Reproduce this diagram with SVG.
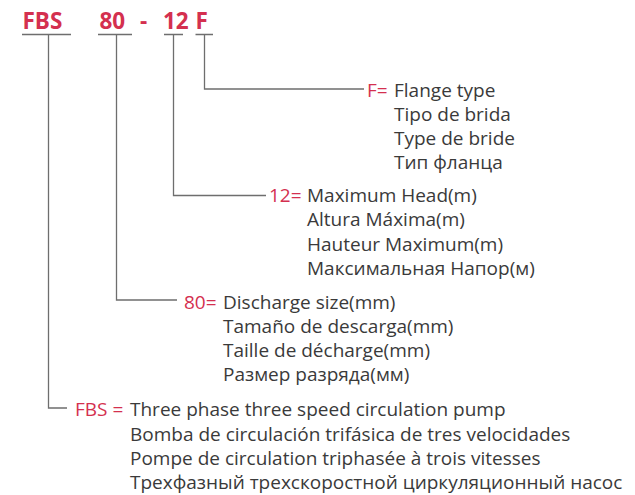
<svg xmlns="http://www.w3.org/2000/svg" width="635" height="495" viewBox="0 0 635 495">
<style>
.code{font-family:"Open Sans","Liberation Sans",sans-serif;font-weight:bold;font-size:22.5px;fill:#d4304f}
.key{font-family:"Open Sans","Liberation Sans",sans-serif;font-size:19px;fill:#d4304f}
.t{font-family:"Open Sans","Liberation Sans",sans-serif;font-size:19px;fill:#3a3a3a}
.ln{stroke:#6e6e6e;stroke-width:1.3;fill:none}
</style>
<rect width="635" height="495" fill="#fff"/>
<g id="header">
<text class="code" x="22.5" y="29">FBS</text>
<text class="code" x="99.5" y="29">80</text>
<text class="code" x="140" y="29">-</text>
<text class="code" x="163" y="29">12</text>
<text class="code" x="195.5" y="29">F</text>
</g>
<g id="connectors">
<path class="ln" d="M22 34.5H71M98 34.5H132M164 34.5H183M195.5 34.5H213"/>
<path class="ln" d="M204.5 34.5V89H364"/>
<path class="ln" d="M173.5 34.5V195.5H266"/>
<path class="ln" d="M116.5 34.5V300H177"/>
<path class="ln" d="M48.5 34.5V408H67"/>
</g>
<g id="node-f">
<text class="key" x="367" y="96.5">F=</text>
<text class="t" x="394" y="96.5">Flange type</text>
<text class="t" x="394" y="120.8">Tipo de brida</text>
<text class="t" x="394" y="145.1">Type de bride</text>
<text class="t" x="394" y="169.4">Тип фланца</text>
</g>
<g id="node-12">
<text class="key" x="269" y="202">12=</text>
<text class="t" x="307" y="202">Maximum Head(m)</text>
<text class="t" x="307" y="226.3">Altura Máxima(m)</text>
<text class="t" x="307" y="250.6">Hauteur Maximum(m)</text>
<text class="t" x="307" y="274.9">Максимальная Напор(м)</text>
</g>
<g id="node-80">
<text class="key" x="184" y="308.5">80=</text>
<text class="t" x="223" y="308.5">Discharge size(mm)</text>
<text class="t" x="223" y="332.8">Tamaño de descarga(mm)</text>
<text class="t" x="223" y="357.1">Taille de décharge(mm)</text>
<text class="t" x="223" y="381.4">Размер разряда(мм)</text>
</g>
<g id="node-fbs">
<text class="key" x="75" y="416.3">FBS =</text>
<text class="t" x="130" y="416.3">Three phase three speed circulation pump</text>
<text class="t" x="130" y="440.6">Bomba de circulación trifásica de tres velocidades</text>
<text class="t" x="130" y="464.9">Pompe de circulation triphasée à trois vitesses</text>
<text class="t" x="130" y="489.2">Трехфазный трехскоростной циркуляционный насос</text>
</g>
</svg>
